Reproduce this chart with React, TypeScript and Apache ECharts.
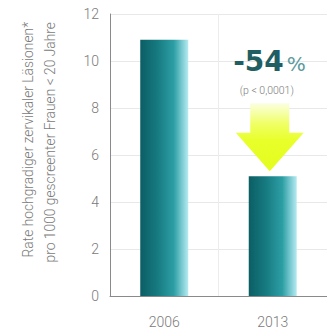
import React, { useEffect, useRef } from "react";
import * as echarts from "echarts";

const categories = ["2006", "2013"];
const rates = [10.9, 5.1];
const yMin = 0;
const yMax = 12;
const yInterval = 2;
const changeValue = "-54";
const changeUnit = "%";
const pValueText = "(p < 0,0001)";
const yTitleLines = [
  "Rate hochgradiger zervikaler Läsionen*",
  "pro 1000 gescreenter Frauen < 20 Jahre",
];

const FONT = "Roboto, 'DejaVu Sans', sans-serif";
const WIDE = "'DejaVu Sans', sans-serif";

export default function App() {
  const ref = useRef<HTMLDivElement>(null);

  useEffect(() => {
    if (!ref.current) return;
    const chart = echarts.init(ref.current, undefined, { renderer: "svg" });

    const barColor = new echarts.graphic.LinearGradient(0, 0, 1, 0, [
      { offset: 0, color: "#0b5e64" },
      { offset: 0.35, color: "#167a80" },
      { offset: 0.7, color: "#2d9ea5" },
      { offset: 1, color: "#b6ebf2" },
    ]);

    chart.setOption({
      animation: false,
      backgroundColor: "#ffffff",
      grid: { left: 110, right: -9, top: 14, bottom: 36, containLabel: false },
      xAxis: {
        type: "category",
        data: categories,
        axisLine: { show: true, lineStyle: { color: "#8a8a8a", width: 1 } },
        axisTick: { show: false },
        splitLine: { show: true, lineStyle: { color: "#ececec", width: 1 } },
        axisLabel: {
          color: "#7a7a7a",
          fontSize: 14,
          fontFamily: FONT,
          fontWeight: 300,
          margin: 19,
        },
      },
      yAxis: {
        type: "value",
        min: yMin,
        max: yMax,
        interval: yInterval,
        axisLine: { show: true, lineStyle: { color: "#8a8a8a", width: 1 } },
        axisTick: { show: false },
        splitLine: { show: true, lineStyle: { color: "#e8e8e8", width: 1 } },
        axisLabel: {
          color: "#7a7a7a",
          fontSize: 14,
          fontFamily: FONT,
          fontWeight: 300,
          margin: 11,
        },
      },
      series: [
        {
          type: "bar",
          data: rates,
          barWidth: 48,
          itemStyle: { color: barColor },
        },
      ],
    });

    const cx = chart.convertToPixel({ seriesIndex: 0 }, [1, rates[1]]) as number[];
    const barCx = cx[0] - 3;
    const barTop = cx[1];
    const shaftTop = chart.convertToPixel({ yAxisIndex: 0 }, 8.2) as number;
    const shaftBottom = chart.convertToPixel({ yAxisIndex: 0 }, 6.95) as number;
    const tip = barTop - 5;

    chart.setOption({
      graphic: [
        {
          type: "polygon",
          shape: {
            points: [
              [barCx - 19.5, shaftTop],
              [barCx + 19.5, shaftTop],
              [barCx + 19.5, shaftBottom],
              [barCx + 34, shaftBottom],
              [barCx, tip],
              [barCx - 34, shaftBottom],
              [barCx - 19.5, shaftBottom],
            ],
          },
          style: {
            fill: new echarts.graphic.LinearGradient(0, 0, 0, 1, [
              { offset: 0, color: "#fbffe0" },
              { offset: 0.3, color: "#f0ff66" },
              { offset: 0.55, color: "#e8ff2a" },
              { offset: 1, color: "#e4fc1e" },
            ]),
          },
          z: 10,
        },
        {
          type: "text",
          x: barCx + 14,
          y: 61,
          style: {
            text: changeValue,
            textAlign: "right",
            textVerticalAlign: "middle",
            fontSize: 28,
            fontWeight: "bold",
            fontFamily: WIDE,
            fill: "#1f5e62",
          },
          z: 10,
        },
        {
          type: "text",
          x: barCx + 17,
          y: 64,
          style: {
            text: changeUnit,
            textAlign: "left",
            textVerticalAlign: "middle",
            fontSize: 20,
            fontFamily: WIDE,
            fill: "#5a9a9e",
          },
          z: 10,
        },
        {
          type: "text",
          x: barCx - 3,
          y: 90,
          style: {
            text: pValueText,
            textAlign: "center",
            textVerticalAlign: "middle",
            fontSize: 10.5,
            fontFamily: FONT,
            fontWeight: 300,
            fill: "#7a7a7a",
          },
          z: 10,
        },
        {
          type: "text",
          x: 28,
          y: 22,
          rotation: Math.PI / 2,
          style: {
            text: yTitleLines[0],
            textAlign: "right",
            textVerticalAlign: "middle",
            fontSize: 13.8,
            fontFamily: FONT,
            fontWeight: 300,
            fill: "#7a7a7a",
          },
        },
        {
          type: "text",
          x: 50,
          y: 22,
          rotation: Math.PI / 2,
          style: {
            text: yTitleLines[1],
            textAlign: "right",
            textVerticalAlign: "middle",
            fontSize: 13.8,
            fontFamily: FONT,
            fontWeight: 300,
            fill: "#7a7a7a",
          },
        },
      ],
    });

    return () => chart.dispose();
  }, []);

  return (
    <div
      ref={ref}
      style={{ position: "fixed", left: 0, top: 0, width: 327, height: 332 }}
    />
  );
}
